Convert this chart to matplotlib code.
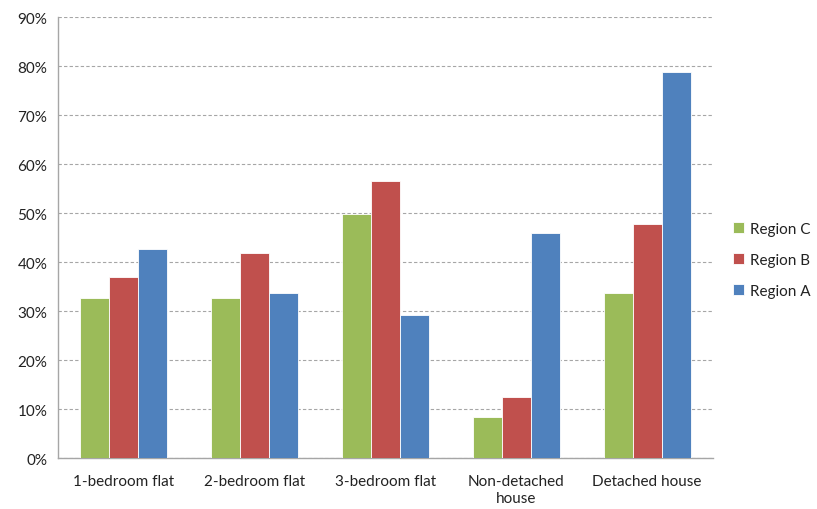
import matplotlib
matplotlib.use("Agg")
import matplotlib.pyplot as plt
import numpy as np
from matplotlib.ticker import PercentFormatter

categories = ["1-bedroom flat", "2-bedroom flat", "3-bedroom flat",
              "Non-detached\nhouse", "Detached house"]
region_c = [32.8, 32.7, 49.8, 8.4, 33.8]
region_b = [36.9, 41.8, 56.5, 12.5, 47.8]
region_a = [42.8, 33.7, 29.2, 45.9, 78.8]

series = [("Region C", region_c, "#9BBB59"),
          ("Region B", region_b, "#C0504D"),
          ("Region A", region_a, "#4F81BD")]

plt.rcParams["font.family"] = ["Lato", "DejaVu Sans"]

fig = plt.figure(figsize=(8.17, 5.10), dpi=100)
ax = fig.add_axes([0.0716, 0.0994, 0.8005, 0.8647])

x = np.arange(len(categories))
w = 1 / 4.5
for i, (name, vals, col) in enumerate(series):
    ax.bar(x + (i - 1) * w, vals, width=w, color=col, label=name,
           edgecolor="white", linewidth=0.6, zorder=3)

ax.set_xlim(-0.5, len(categories) - 0.5)
ax.set_ylim(0, 90)
ax.set_yticks(range(0, 91, 10))
ax.yaxis.set_major_formatter(PercentFormatter(decimals=0))
ax.set_xticks(x)
ax.set_xticklabels(categories, linespacing=1.35)
ax.tick_params(axis="both", length=0, labelsize=11, colors="#222222", pad=8)
ax.tick_params(axis="x", pad=11)

ax.grid(axis="y", color="#A6A6A6", linestyle=(0, (3, 2)), linewidth=0.8, zorder=0)
for s in ["top", "right"]:
    ax.spines[s].set_visible(False)
for s in ["left", "bottom"]:
    ax.spines[s].set_color("#A6A6A6")
    ax.spines[s].set_linewidth(1)

leg = ax.legend(loc="center left", bbox_to_anchor=(1.01, 0.45), frameon=False,
                fontsize=11, handlelength=0.75, handleheight=0.75,
                handletextpad=0.4, labelspacing=1.1)
for t in leg.get_texts():
    t.set_color("#222222")

fig.savefig("out.png", dpi=100)
